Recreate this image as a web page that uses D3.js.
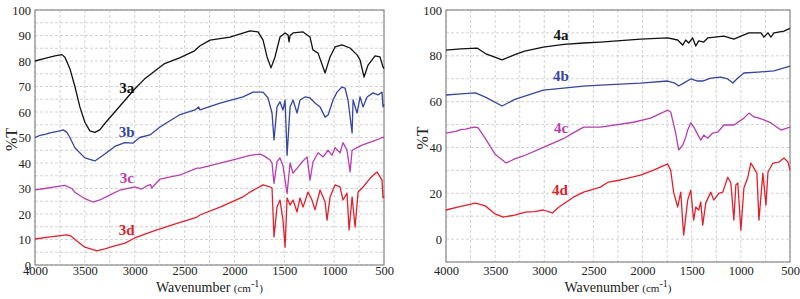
<!DOCTYPE html>
<html>
<head>
<meta charset="utf-8">
<script src="https://cdn.jsdelivr.net/npm/d3@7"></script>
<style>
  body { margin: 0; background: #fff; }
  svg { display: block; font-family: "Liberation Serif", "DejaVu Serif", serif; }
</style>
</head>
<body>
<div id="chart-container"></div>
<script>
// Espectros IR, panel izquierdo (3a-3d) y derecho (4a-4d): [numero de onda, %T]
const serie3a = [[4000,80],[3900,81],[3800,82],[3730,82.5],[3700,81.5],[3650,77],[3600,70],[3550,62],[3500,56],[3450,52.6],[3400,52],[3350,53],[3300,55.5],[3200,60],[3100,64.5],[3000,69],[2900,73],[2850,74.5],[2700,79],[2550,81.2],[2400,84],[2345,86],[2245,88.2],[2044,89.4],[1844,91.8],[1763,91.4],[1713,88.2],[1673,81.6],[1633,77.3],[1593,81.6],[1543,89.4],[1492,91],[1462,90.2],[1452,87.5],[1442,90],[1412,91],[1312,91.4],[1242,89.4],[1212,84.3],[1161,83.1],[1091,75.3],[1041,81.6],[991,85.5],[921,86.3],[841,85.1],[770,82.4],[740,80.4],[700,73.7],[660,78.4],[590,82],[540,81.6],[510,77.6],[500,77]];
const serie3b = [[4000,50],[3950,50.8],[3900,51.2],[3850,51.8],[3800,52.2],[3750,52.6],[3719,53],[3680,52],[3650,50],[3600,46],[3500,42],[3400,40.8],[3300,43.5],[3200,46.5],[3100,48],[3017,47.8],[2950,50],[2847,51],[2750,54],[2650,56.5],[2545,59],[2395,60.8],[2360,62],[2345,60.8],[2144,63.5],[1914,65.9],[1813,67.8],[1713,67.8],[1663,65.5],[1623,59.6],[1603,49],[1573,62],[1543,64],[1513,60.8],[1492,64.7],[1472,43],[1442,62],[1412,64.7],[1372,59.6],[1342,64.7],[1292,65.9],[1242,65.5],[1192,63.5],[1141,62],[1091,58],[1061,58.8],[1011,64.7],[971,67.8],[921,69.8],[891,69.4],[861,64.7],[820,51.8],[810,64.7],[770,59.6],[740,65.9],[710,62],[670,65.9],[610,67.5],[560,66.7],[520,67.8],[510,62],[500,63]];
const serie3c = [[4000,29.5],[3900,30],[3800,30.6],[3700,31.2],[3630,30],[3600,28.5],[3500,26],[3418,24.7],[3350,25.5],[3248,27.5],[3147,29.4],[3000,30.6],[2930,29.8],[2880,31],[2840,31.5],[2830,30.2],[2746,33.7],[2545,35.3],[2375,38],[2345,38],[2014,41.2],[1844,43],[1743,43.5],[1713,43],[1673,42],[1643,41.2],[1623,40],[1603,32],[1573,40.4],[1543,42],[1513,39],[1472,28],[1442,40],[1412,36],[1362,38.4],[1322,40.4],[1272,42.4],[1242,33.3],[1212,40.4],[1161,44],[1111,42.4],[1061,45],[1021,43],[991,46],[941,44],[911,48],[871,45],[840,36.5],[820,45],[770,46],[720,47],[650,48],[580,49],[520,50],[500,50]];
const serie3d = [[4000,10.2],[3850,11],[3680,11.8],[3640,11.4],[3600,10],[3500,7],[3378,5.5],[3300,6.3],[3200,7.5],[3097,8.6],[3000,10.6],[2800,13.5],[2600,16],[2375,18.8],[2345,19.6],[2144,22.7],[1914,26.7],[1844,28.6],[1713,31.4],[1643,30.6],[1623,30.2],[1603,11],[1573,22.7],[1543,25.5],[1513,17.6],[1492,7],[1472,26.3],[1442,23.5],[1412,25.5],[1372,20.8],[1342,26.3],[1312,22.7],[1262,28.6],[1222,25.5],[1192,21.6],[1141,29.4],[1091,24.7],[1071,17.6],[1041,26.7],[991,31.4],[941,30.6],[911,25.5],[871,28.2],[850,13.7],[820,26.7],[790,14.9],[760,28.6],[710,30.6],[640,34],[570,36.5],[520,33.3],[510,26.3],[500,27]];

const serie4a = [[4000,82.5],[3850,83],[3684,83.4],[3600,81],[3429,78.2],[3300,80.5],[3200,82],[3010,83.8],[2800,85],[2600,85.6],[2429,86],[2020,87.3],[1745,87.8],[1643,86.9],[1592,84.7],[1561,86.9],[1531,85.6],[1490,87.8],[1459,84.3],[1429,86.5],[1378,86],[1337,87.8],[1173,88.6],[1071,87.3],[1000,88.6],[918,90],[796,90],[765,88.2],[724,90],[694,88.2],[663,90],[561,90.8],[500,92]];
const serie4b = [[4000,62.9],[3850,63.4],[3700,63.8],[3600,62],[3429,58.1],[3300,61],[3010,65],[2600,66.8],[2429,67.2],[2020,68.1],[1745,69],[1673,68.1],[1633,66.8],[1582,68.1],[1510,69.9],[1439,69],[1388,69],[1306,70.3],[1204,70.7],[1133,69.9],[1082,68.1],[1031,70.3],[969,72.5],[827,72.9],[663,73.4],[500,75.5]];
const serie4c = [[4000,46.3],[3900,47],[3850,47.8],[3800,48],[3750,48.6],[3700,48.9],[3673,48.5],[3600,44],[3500,37],[3388,33.2],[3300,35],[3200,36.5],[3010,40],[2800,44],[2700,46.5],[2600,48.9],[2429,48.9],[2092,51],[1918,52.8],[1745,56.3],[1714,55.5],[1663,46.3],[1633,38.9],[1592,41],[1561,44.5],[1541,47.6],[1510,50.7],[1480,49],[1408,43.2],[1378,45.4],[1337,44],[1286,46.3],[1235,46.7],[1173,49.8],[1071,49.8],[969,52.8],[918,55],[867,53.3],[816,52.8],[765,52],[694,50.7],[592,47.6],[500,48.9]];
const serie4d = [[4000,12.7],[3850,14.3],[3700,15.7],[3600,14.5],[3500,11],[3418,9.6],[3300,10.5],[3194,11.8],[3100,12],[3010,12.7],[2918,11.4],[2850,14],[2704,18.3],[2600,20.5],[2429,22.7],[2347,24.9],[2224,25.8],[2020,27.9],[1888,30.1],[1745,32.8],[1714,30.1],[1684,20.5],[1643,14],[1612,20.5],[1582,1.7],[1541,17],[1510,21.4],[1480,8.3],[1459,14],[1429,12.7],[1408,16.2],[1388,6.1],[1357,15.7],[1306,20.5],[1276,17],[1224,20],[1184,20.5],[1133,27],[1102,24.5],[1071,8.3],[1051,23.6],[1031,24.5],[1000,3.9],[969,22.3],[929,27],[898,33.2],[867,31],[837,28.8],[816,8.3],[776,28.8],[745,14.8],[724,29.3],[673,33.2],[612,33.6],[561,35.4],[520,33.6],[500,30.1]];

const ticksX = [4000, 3500, 3000, 2500, 2000, 1500, 1000, 500];
const ticksYIzq = [0, 10, 20, 30, 40, 50, 60, 70, 80, 90, 100];
const ticksYDer = [0, 20, 40, 60, 80, 100];

const etiquetas3 = ["3a", "3b", "3c", "3d"];
const etiquetas4 = ["4a", "4b", "4c", "4d"];
const colores = ["#111111", "#3545a0", "#b83db0", "#e0202c"];

const width = 800;
const height = 299;

const svg = d3.select("#chart-container").append("svg")
    .attr("width", width)
    .attr("height", height);

function dibujarPanel(cfg) {
    const x = d3.scaleLinear().domain([4000, 500]).range([cfg.x0, cfg.x1]);
    const y = d3.scaleLinear().domain(cfg.yDom).range([cfg.y1, cfg.y0]);
    const g = svg.append("g");

    // Rejilla punteada
    g.selectAll(".gx")
        .data(d3.range(4000, 499, -250))
        .enter().append("line")
        .attr("x1", d => x(d)).attr("x2", d => x(d))
        .attr("y1", cfg.y0).attr("y2", cfg.y1)
        .style("stroke", "#c8c8c8").style("stroke-dasharray", "3,2").style("stroke-width", 0.8);

    g.selectAll(".gy")
        .data(d3.range(cfg.yDom[0], cfg.yDom[1] + 0.1, cfg.yGrid))
        .enter().append("line")
        .attr("x1", cfg.x0).attr("x2", cfg.x1)
        .attr("y1", d => y(d)).attr("y2", d => y(d))
        .style("stroke", "#c8c8c8").style("stroke-dasharray", "3,2").style("stroke-width", 0.8);

    // Ejes
    const ejeX = g.append("g")
        .attr("transform", `translate(0,${cfg.y1})`)
        .call(d3.axisBottom(x).tickValues(ticksX).tickSize(0).tickPadding(cfg.padX).tickFormat(d3.format("d")));
    const ejeY = g.append("g")
        .attr("transform", `translate(${cfg.x0},0)`)
        .call(d3.axisLeft(y).tickValues(cfg.ticksY).tickSize(0).tickPadding(4).tickFormat(d3.format("d")));

    [ejeX, ejeY].forEach(e => {
        e.select(".domain").remove();
        e.selectAll("text")
            .style("font-family", "Liberation Serif, serif")
            .style("font-size", "12.5px")
            .style("fill", "#222");
    });

    // Marco
    g.append("rect")
        .attr("x", cfg.x0).attr("y", cfg.y0)
        .attr("width", cfg.x1 - cfg.x0).attr("height", cfg.y1 - cfg.y0)
        .style("fill", "none").style("stroke", "#777").style("stroke-width", 1);

    // Curvas
    const linea = d3.line().x(d => x(d[0])).y(d => y(d[1]));
    g.selectAll(".serie")
        .data(cfg.series)
        .enter().append("path")
        .attr("d", d => linea(d))
        .style("fill", "none")
        .style("stroke", (d, i) => colores[i])
        .style("stroke-width", 1.3)
        .style("stroke-linejoin", "round");

    // Etiquetas de cada curva
    g.selectAll(".etq")
        .data(cfg.etiquetas)
        .enter().append("text")
        .attr("x", (d, i) => x(cfg.posEtq[i][0]))
        .attr("y", (d, i) => y(cfg.posEtq[i][1]))
        .attr("text-anchor", "middle")
        .style("font-size", "15px")
        .style("font-weight", "bold")
        .style("fill", (d, i) => colores[i])
        .text(d => d);

    // Titulos de ejes
    g.append("text")
        .attr("transform", `translate(${cfg.x0 - 18},${(cfg.y0 + cfg.y1) / 2 + 2}) rotate(-90)`)
        .attr("text-anchor", "middle")
        .style("font-size", "16px")
        .style("fill", "#222")
        .text("%T");

    const tx = g.append("text")
        .attr("x", (cfg.x0 + cfg.x1) / 2)
        .attr("y", cfg.titY)
        .attr("text-anchor", "middle")
        .style("font-size", "14px")
        .style("fill", "#222");
    tx.append("tspan").text("Wavenumber ");
    tx.append("tspan").style("font-size", "11px").text("(cm");
    tx.append("tspan").attr("dy", -5).style("font-size", "10px").text("-1");
    tx.append("tspan").attr("dy", 5).style("font-size", "11px").text(")");
}

dibujarPanel({
    x0: 35, x1: 384, y0: 10, y1: 265,
    yDom: [0, 100], yGrid: 5, ticksY: ticksYIzq, padX: 1, titY: 292,
    series: [serie3a, serie3b, serie3c, serie3d],
    etiquetas: etiquetas3,
    posEtq: [[3080, 67.5], [3080, 50.2], [3080, 32.2], [3080, 11.8]]
});

dibujarPanel({
    x0: 446, x1: 790, y0: 10, y1: 262,
    yDom: [-10, 100], yGrid: 10, ticksY: ticksYDer, padX: 4, titY: 292,
    series: [serie4a, serie4b, serie4c, serie4d],
    etiquetas: etiquetas4,
    posEtq: [[2830, 87], [2830, 69], [2830, 46.5], [2840, 19.2]]
});
</script>
</body>
</html>
